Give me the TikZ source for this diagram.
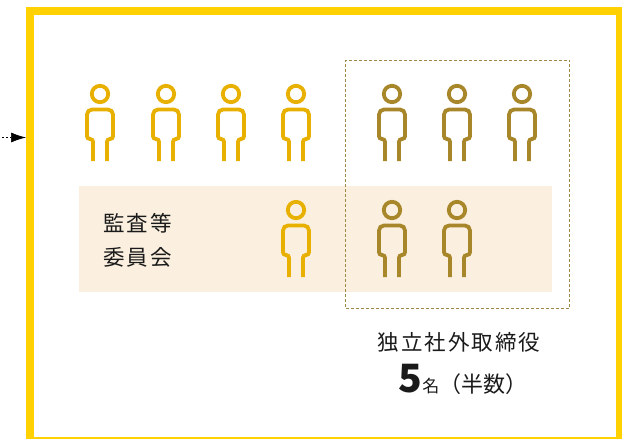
\documentclass[tikz,border=0pt]{standalone}
\usepackage{fontspec}
\newfontfamily\jp[LetterSpace=9]{Noto Sans CJK JP}
\newfontfamily\jpnum{Noto Sans CJK JP}
\usetikzlibrary{arrows.meta}
\definecolor{frameyellow}{HTML}{FFD100}
\definecolor{gold}{HTML}{E8B000}
\definecolor{bronze}{HTML}{A8862A}
\definecolor{cream}{HTML}{FBF0DF}
\definecolor{dashbrown}{HTML}{9E8A45}
\definecolor{ink}{HTML}{1A1A1A}

\begin{document}
\begin{tikzpicture}[
  x=1pt, y=-1pt,
  person/.pic = {
    \draw (0,0) circle[radius=8.2pt];
    \draw[rounded corners=2.8pt] (-7,67) -- (-7,45) -- (-13,45)
      [rounded corners=5pt] -- (-13,15.5) -- (13,15.5)
      [rounded corners=2.8pt] -- (13,45) -- (7,45) -- (7,67);
  },
  member/.style   = {line width=3.8pt, gold},
  outsider/.style = {line width=3.8pt, bronze},
  jptext/.style   = {font=\jp\fontsize{21.5}{34}\selectfont, text=ink,
    inner sep=0pt, align=left}
  ]
  \useasboundingbox (0,0) rectangle (622,439);

  \node[draw=frameyellow, line width=8pt, minimum width=589.7pt,
    minimum height=429.7pt, inner sep=0pt] (board) at (324.85,225.85) {};
  \node[fill=cream, minimum width=473pt, minimum height=106pt,
    inner sep=0pt] (band) at (315.5,239) {};
  \node[draw=dashbrown, dash pattern=on 3pt off 2pt, line width=1pt,
    minimum width=224pt, minimum height=248pt, inner sep=0pt]
    (outside) at (457.8,184) {};

  \coordinate (src) at (2,137.5);
  \draw[dash pattern=on 1.5pt off 2.5pt, line width=0.7pt,
    -{Latex[length=15pt,width=10pt]}] (src) -- (board.west |- src);

  % top row
  \pic[member]   at (100,94) {person};
  \pic[member]   at (166,94) {person};
  \pic[member]   at (231,94) {person};
  \pic[member]   at (296,94) {person};
  \pic[outsider] at (392,94) {person};
  \pic[outsider] at (457,94) {person};
  \pic[outsider] at (522,94) {person};
  % committee row
  \pic[member]   at (296,210) {person};
  \pic[outsider] at (392,210) {person};
  \pic[outsider] at (457,210) {person};

  \node[jptext, anchor=west] (auditname) at (103,240) {監査等\\委員会};
  \node[jptext] (indname) at (459,342) {独立社外取締役};
  \node[anchor=base, text=ink, inner sep=0pt, font=\jpnum] (indcount) at (463,392)
    {{\bfseries\fontsize{39}{39}\selectfont 5}{\fontsize{17}{17}\selectfont 名}{\fontsize{22}{22}\selectfont （半数）}};
\end{tikzpicture}
\end{document}
